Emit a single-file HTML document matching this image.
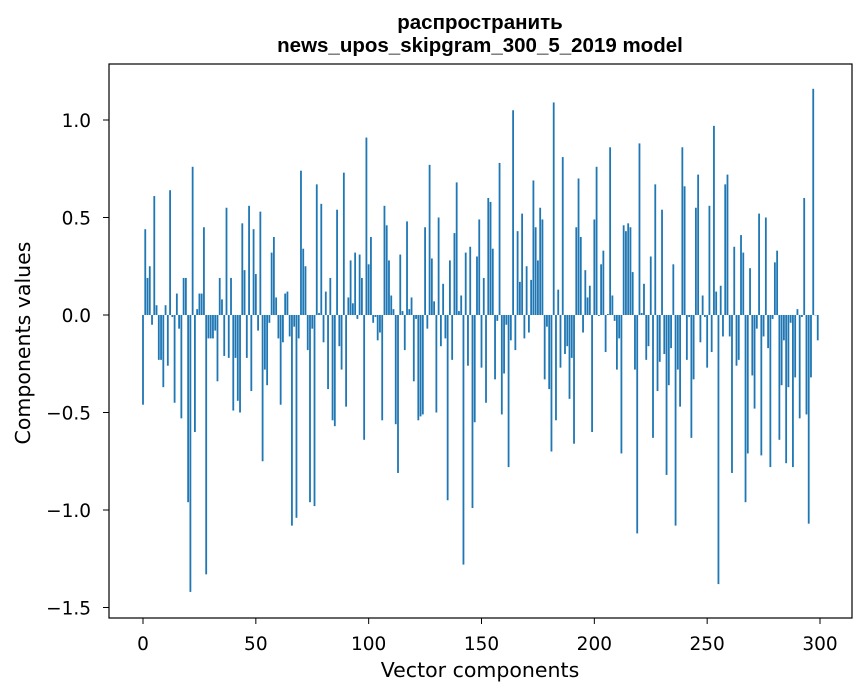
<!DOCTYPE html>
<html><head><meta charset="utf-8"><style>
body{margin:0;background:#fff;}
svg{display:block;font-family:"DejaVu Sans","Liberation Sans",sans-serif;}
.ttl{font-family:"Liberation Sans",Arial,sans-serif;font-weight:bold;font-size:20.5px;}
</style></head><body>
<svg id="chart" width="867" height="696">
<text class="ttl" x="480" y="29" text-anchor="middle">распространить</text>
<text class="ttl" x="480" y="52" text-anchor="middle">news_upos_skipgram_300_5_2019 model</text>
<g id="bars"></g>
<g id="axes"></g>
<rect x="109" y="64" width="743" height="554" fill="none" stroke="#000" stroke-width="1.2"/>
<text x="480" y="677" text-anchor="middle" font-size="20.5">Vector components</text>
<text transform="translate(30,343) rotate(-90)" text-anchor="middle" font-size="20.5">Components values</text>
</svg>
<script>
const values = [
-0.46,0.44,0.19,0.25,-0.05,0.61,0.05,-0.23,-0.23,-0.37,0.05,-0.26,0.64,-0.01,-0.45,0.11,-0.07,-0.53,0.19,0.19,
-0.96,-1.42,0.76,-0.60,0.03,0.11,0.11,0.45,-1.33,-0.12,-0.12,-0.12,-0.08,-0.34,0.19,0.08,-0.21,0.55,-0.22,0.19,
-0.49,-0.22,-0.44,-0.50,0.47,0.23,-0.22,0.56,-0.39,0.44,0.21,
-0.08,0.53,-0.75,-0.28,-0.36,-0.04,0.32,0.40,0.09,-0.12,-0.46,-0.14,0.11,0.12,-0.11,-1.08,-0.06,-1.04,-0.12,0.74,
0.34,0.25,-0.18,-0.96,-0.07,-0.98,0.67,0.01,0.57,-0.14,0.12,-0.38,0.19,-0.54,-0.57,0.54,-0.16,-0.28,0.73,-0.47,
0.09,0.28,0.06,0.32,-0.02,0.31,0.19,-0.64,0.91,0.26,
0.40,-0.04,-0.01,-0.13,-0.09,-0.54,0.56,0.46,0.28,0.10,0.03,-0.56,-0.81,0.31,0.02,-0.18,0.48,0.03,0.09,-0.34,
-0.02,-0.54,-0.52,-0.51,0.45,-0.07,0.77,0.29,0.07,-0.50,0.50,-0.16,0.16,-0.12,-0.95,0.28,-0.23,0.42,0.68,0.02,
0.10,-1.28,0.32,-0.26,0.35,-0.99,-0.55,0.30,0.49,-0.27,
0.19,-0.45,0.60,0.58,0.34,-0.33,-0.03,0.78,-0.51,-0.30,-0.05,-0.78,-0.13,1.05,-0.18,0.43,0.17,0.52,-0.12,0.25,
-0.09,0.18,0.69,0.45,0.28,0.55,0.49,-0.33,-0.06,-0.38,-0.70,1.09,-0.54,0.13,-0.27,0.81,-0.20,-0.16,-0.43,-0.22,
-0.66,0.45,0.70,0.40,-0.09,0.23,0.09,0.15,-0.60,0.49,
0.76,-0.005,0.26,0.33,-0.19,0.005,0.86,0.10,-0.03,-0.28,-0.12,-0.71,0.46,0.43,0.47,0.45,0.22,-0.28,-1.12,0.88,
0.01,0.16,-0.23,-0.16,0.30,-0.63,0.67,-0.39,-0.24,0.54,-0.20,-0.82,-0.36,-0.17,0.26,-1.08,-0.28,-0.47,0.86,0.66,
-0.23,-0.01,-0.63,-0.33,0.55,0.72,-0.14,0.10,-0.01,-0.27,
0.56,-0.19,0.97,0.12,-1.38,0.15,-0.11,0.67,0.72,-0.11,-0.81,0.35,-0.26,-0.23,0.41,0.32,-0.96,-0.71,0.24,-0.31,
-0.48,-0.07,0.52,-0.72,-0.11,0.50,-0.17,-0.78,-0.02,0.27,0.33,-0.64,-0.36,-0.13,-0.76,-0.37,-0.04,-0.78,-0.32,0.03,
-0.53,-0.01,0.60,-0.51,-1.07,-0.32,1.16,0.0,-0.13
];
const xTicks = [0,50,100,150,200,250,300];
const yTicks = [-1.5,-1.0,-0.5,0.0,0.5,1.0];
const yTickLabels = ["\u22121.5","\u22121.0","\u22120.5","0.0","0.5","1.0"];

const NS = "http://www.w3.org/2000/svg";
function xs(v){ return 143 + v * (677/300); }
function ys(v){ return 315 - v * 195; }
const bars = document.getElementById('bars');
const bw = 0.8 * 677/300;
values.forEach((v,i)=>{
  const r = document.createElementNS(NS,'rect');
  const y0 = ys(0), y1 = ys(v);
  r.setAttribute('x', xs(i) - bw/2);
  r.setAttribute('y', Math.min(y0,y1));
  r.setAttribute('width', bw);
  r.setAttribute('height', Math.max(Math.abs(y1-y0),0.3));
  r.setAttribute('fill', '#1f77b4');
  
  
  bars.appendChild(r);
});
const axes = document.getElementById('axes');
xTicks.forEach(t=>{
  const l = document.createElementNS(NS,'line');
  l.setAttribute('x1', xs(t)); l.setAttribute('x2', xs(t));
  l.setAttribute('y1', 618); l.setAttribute('y2', 624);
  l.setAttribute('stroke', '#000');
  
  
  axes.appendChild(l);
  const tx = document.createElementNS(NS,'text');
  tx.setAttribute('x', xs(t)); tx.setAttribute('y', 650);
  tx.setAttribute('text-anchor', 'middle'); tx.setAttribute('font-size', '18.5');
  tx.textContent = String(t);
  
  
  axes.appendChild(tx);
});
yTicks.forEach((t,k)=>{
  const l = document.createElementNS(NS,'line');
  l.setAttribute('x1', 103); l.setAttribute('x2', 109);
  l.setAttribute('y1', ys(t)); l.setAttribute('y2', ys(t));
  l.setAttribute('stroke', '#000');
  
  
  axes.appendChild(l);
  const tx = document.createElementNS(NS,'text');
  tx.setAttribute('x', 91); tx.setAttribute('y', ys(t) + 7);
  tx.setAttribute('text-anchor', 'end'); tx.setAttribute('font-size', '18.5');
  tx.textContent = yTickLabels[k];
  
  
  axes.appendChild(tx);
});
</script>
</body></html>
